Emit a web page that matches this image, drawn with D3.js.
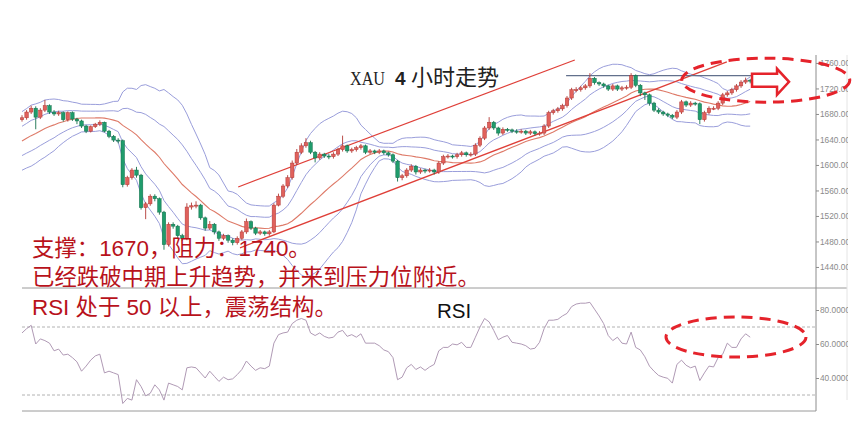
<!DOCTYPE html>
<html><head><meta charset="utf-8">
<script src="https://cdn.jsdelivr.net/npm/d3@7/dist/d3.min.js"></script>
<style>body{margin:0;background:#fff} svg{display:block}</style>
</head><body>
<svg id="c" width="859" height="432"></svg>
<script>
// ---- data ----
const priorCloses = [1600,1606,1611,1608,1615,1620,1626,1622,1630,1636,1641,1648,1645,1652,1658,1663,1660,1668,1671];
const closes = [1674,1683,1689,1675,1686,1693,1683,1680,1682,1671,
 1682,1672,1669,1661,1653,1660,1664,1667,1653,1645,
 1639,1638,1569,1580,1592,1584,1533,1539,1551,1547,
 1526,1475,1507,1504,1489,1485,1534,1536,1537,1517,
 1501,1507,1495,1485,1489,1482,1478,1485,1495,1511,
 1501,1493,1495,1492,1495,1537,1551,1567,1580,1603,
 1620,1630,1635,1620,1611,1617,1614,1613,1617,1624,
 1630,1622,1624,1627,1630,1620,1622,1620,1622,1619,
 1616,1606,1580,1583,1592,1598,1589,1592,1591,1592,
 1589,1603,1613,1614,1613,1616,1619,1616,1617,1631,
 1642,1658,1667,1658,1650,1656,1655,1653,1652,1653,
 1650,1652,1649,1650,1661,1682,1685,1688,1693,1705,
 1718,1718,1721,1724,1736,1729,1727,1724,1719,1724,
 1719,1721,1722,1740,1725,1713,1710,1697,1686,1683,
 1680,1678,1675,1683,1699,1694,1697,1696,1671,1682,
 1689,1689,1697,1710,1713,1718,1724,1730,1733,1732];
const highs = [1678,1686,1693,1692,1689,1702,1695,1686,1685,1684,
 1684,1684,1674,1671,1663,1662,1666,1670,1668,1655,
 1647,1642,1640,1583,1595,1597,1586,1542,1554,1554,
 1549,1528,1510,1510,1506,1492,1540,1541,1543,1539,
 1519,1512,1509,1497,1492,1491,1485,1488,1498,1516,
 1513,1503,1498,1497,1498,1540,1555,1570,1584,1607,
 1625,1634,1642,1638,1622,1620,1619,1617,1620,1627,
 1646,1632,1627,1630,1633,1632,1625,1624,1625,1624,
 1621,1618,1608,1586,1595,1601,1600,1595,1594,1595,
 1594,1606,1616,1617,1616,1619,1622,1621,1620,1634,
 1645,1661,1675,1669,1660,1659,1658,1657,1656,1656,
 1655,1655,1654,1653,1664,1685,1688,1691,1696,1708,
 1721,1722,1724,1727,1744,1738,1731,1729,1726,1727,
 1726,1724,1725,1744,1742,1727,1715,1712,1699,1689,
 1685,1682,1680,1686,1702,1701,1700,1699,1698,1685,
 1692,1692,1700,1713,1716,1721,1727,1733,1737,1735];
const lows = [1668,1671,1680,1656,1672,1683,1680,1677,1677,1668,
 1668,1669,1664,1658,1650,1651,1658,1661,1651,1642,
 1636,1634,1565,1566,1577,1580,1530,1515,1536,1543,
 1522,1467,1472,1500,1485,1481,1482,1530,1532,1514,
 1497,1498,1491,1481,1482,1478,1474,1475,1482,1492,
 1498,1490,1490,1489,1489,1493,1535,1548,1564,1577,
 1600,1617,1627,1617,1604,1608,1611,1609,1610,1614,
 1621,1619,1619,1621,1624,1617,1617,1617,1617,1616,
 1613,1603,1574,1576,1580,1589,1585,1586,1587,1588,
 1585,1586,1600,1610,1610,1610,1613,1613,1613,1614,
 1628,1639,1655,1655,1646,1647,1652,1650,1649,1649,
 1647,1647,1646,1646,1647,1658,1679,1682,1685,1690,
 1702,1714,1715,1718,1721,1726,1724,1721,1716,1716,
 1716,1716,1718,1719,1722,1708,1702,1693,1683,1680,
 1677,1675,1672,1672,1680,1691,1691,1693,1664,1668,
 1679,1686,1686,1694,1707,1710,1715,1721,1727,1728];
const rsi = [66.5,69,71,60,63,62,60.5,56,57,53.5,
 54,52,49.5,44,47,50.5,53,54,43,44,
 43,42,25,28,27,39,35,29.5,31,36,
 33,27,37,36,35,33,46,46.5,46,43,
 40,44,41,38,40.5,39,39.5,42,45,50,
 47,44.5,46,45.5,47,60.5,65.5,66.5,67,72,
 74,75,74,66.5,65,66.5,64.5,63.5,64,67,
 68,64.5,65.5,64,66,60.5,60.5,60.5,59,56.5,
 55.5,52,39,40.5,46,48,45,46.5,44.5,46.5,
 48,56,58,58,60,59.5,61,58,58,64,
 70,75,73,68,62.5,64,65,61,60.5,60,
 59,57,57.5,61,69,74,74,74.5,76.5,78,
 82,83.5,84,84,84.5,80.5,76.5,72,65,62,
 64,60.5,60,67,58,56.5,52.5,47,44,41.5,
 40.5,39.8,37,48,50.5,47.5,46,47,38.5,43,
 47,46.5,52,54,60.5,58,58,63,66,64];
const priceTicks = [1440,1480,1520,1560,1600,1640,1680,1720,1760];
const rsiTicks = [40,60,80];
const rsiLevels = [30,70];
const resistancePrice = 1740;
const resistanceSpan = [118.8,159.6];
const trendUpper = [[47.2,1565.5],[120.7,1764.7]];
const trendLower = [[47.6,1470],[153.9,1761.6]];
const bbPeriod = 20;
const titleParts = ["XAU","4","小时走势"];
const notes = ["支撑：1670，阻力：1740。","已经跌破中期上升趋势，并来到压力位附近。","RSI 处于 50 以上，震荡结构。"];

// ---- scales ----
const svg = d3.select('#c');
const x = d3.scaleLinear().domain([0,159]).range([22,750.2]);
const y = d3.scaleLinear().domain([1407,1780]).range([288,50.2]);
const yr = d3.scaleLinear().domain([20,92]).range([412,289.6]);

const candles = closes.map((c,i)=>({i, o: i===0 ? priorCloses[priorCloses.length-1] : closes[i-1], c, h: highs[i], l: lows[i]}));

// Bollinger (20) with 1 and 2 sigma
const all = priorCloses.concat(closes);
const bb = closes.map((c,i)=>{
  const w = all.slice(i + priorCloses.length - bbPeriod + 1, i + priorCloses.length + 1);
  const m = d3.mean(w); const s = Math.sqrt(d3.mean(w, v=>(v-m)*(v-m)));
  return {i, m, s};
});

// frame lines
svg.append('line').attr('x1',22).attr('x2',847).attr('y1',288).attr('y2',288).attr('stroke','#9a9a9a');
svg.append('line').attr('x1',22).attr('x2',816).attr('y1',411).attr('y2',411).attr('stroke','#9a9a9a');
svg.append('line').attr('x1',847).attr('x2',847).attr('y1',55).attr('y2',400).attr('stroke','#e4e4e4');

const g = svg.append('g');
[-2,-1,1,2].forEach(k=>{
  g.append('path').datum(bb).attr('fill','none').attr('stroke','#9a9edb').attr('stroke-width',1)
   .attr('d', d3.line().x(d=>x(d.i)).y(d=>y(d.m + k*d.s)));
});
g.append('path').datum(bb).attr('fill','none').attr('stroke','#de7a68').attr('stroke-width',1.1)
 .attr('d', d3.line().x(d=>x(d.i)).y(d=>y(d.m)));

// trend lines
[trendUpper, trendLower].forEach(t=>{
  g.append('line').attr('x1',x(t[0][0])).attr('y1',y(t[0][1])).attr('x2',x(t[1][0])).attr('y2',y(t[1][1]))
   .attr('stroke','#df3f38').attr('stroke-width',1.2);
});
g.append('line').attr('x1',x(resistanceSpan[0])).attr('x2',x(resistanceSpan[1]))
 .attr('y1',y(resistancePrice)).attr('y2',y(resistancePrice)).attr('stroke','#62708c').attr('stroke-width',1.2);

// candles
const cg = svg.append('g');
const upFill='#e0615c', upStroke='#b23a36', dnFill='#1f9c6c', dnStroke='#15704c';
cg.selectAll('line.w').data(candles).join('line').attr('class','w')
  .attr('x1',d=>x(d.i)).attr('x2',d=>x(d.i)).attr('y1',d=>y(d.h)).attr('y2',d=>y(d.l))
  .attr('stroke',d=>d.c>=d.o?upStroke:dnStroke).attr('stroke-width',0.9);
cg.selectAll('rect').data(candles).join('rect')
  .attr('x',d=>x(d.i)-1.75).attr('width',3.5)
  .attr('y',d=>y(Math.max(d.o,d.c))).attr('height',d=>Math.max(1,Math.abs(y(d.o)-y(d.c))))
  .attr('fill',d=>d.c>=d.o?upFill:dnFill).attr('stroke',d=>d.c>=d.o?upStroke:dnStroke).attr('stroke-width',0.5);

// price axis
const pa = svg.append('g').attr('transform','translate(816,0)')
  .call(d3.axisRight(y).tickValues(priceTicks).tickFormat(d3.format('.2f')).tickSize(3).tickSizeOuter(0));
pa.select('.domain').attr('d','M0,55V411').attr('stroke','#8c8c8c');
pa.selectAll('line').attr('stroke','#8c8c8c');
pa.selectAll('text').attr('fill','#8a8a8a').attr('font-size',8.3).attr('font-family','Liberation Sans, Arial').attr('x',4);

// RSI
rsiLevels.forEach(v=>{
  svg.append('line').attr('x1',22).attr('x2',816).attr('y1',yr(v)).attr('y2',yr(v))
    .attr('stroke','#a0a0a0').attr('stroke-dasharray','3,2').attr('stroke-width',0.8);
});
svg.append('path').datum(rsi).attr('fill','none').attr('stroke','#b09ab5').attr('stroke-width',1)
  .attr('d', d3.line().x((d,i)=>x(i)).y(d=>yr(d)));
const ra = svg.append('g').attr('transform','translate(816,0)')
  .call(d3.axisRight(yr).tickValues(rsiTicks).tickFormat(d=>d.toFixed(4)).tickSize(3).tickSizeOuter(0));
ra.select('.domain').remove();
ra.selectAll('line').attr('stroke','#8c8c8c');
ra.selectAll('text').attr('fill','#8a8a8a').attr('font-size',8.3).attr('font-family','Liberation Sans, Arial').attr('x',4);
// clip the labels like the original
svg.append('rect').attr('x',848).attr('y',0).attr('width',11).attr('height',432).attr('fill','#fff');

// annotations: ellipses and arrow
const red = '#e5232b';
svg.append('ellipse').attr('cx',x(162.4)).attr('cy',y(1733)).attr('rx',84).attr('ry',22)
  .attr('fill','none').attr('stroke',red).attr('stroke-width',3).attr('stroke-dasharray','11,7');
svg.append('ellipse').attr('cx',x(155.9)).attr('cy',yr(64.1)).attr('rx',70).attr('ry',20)
  .attr('fill','none').attr('stroke',red).attr('stroke-width',3).attr('stroke-dasharray','11,7');
svg.append('path').attr('transform',`translate(${x(159.4)},${y(1732)})`)
  .attr('d','M0,-7 L25,-7 L25,-12 L37,1 L25,14 L25,6 L0,6 Z')
  .attr('fill','#fff').attr('stroke',red).attr('stroke-width',2.5).attr('stroke-linejoin','miter');

// title
svg.append('text').attr('x',350).attr('y',85).attr('font-family','Liberation Serif, serif').attr('font-size',19)
  .attr('textLength',35).attr('lengthAdjust','spacingAndGlyphs').attr('fill','#222').text(titleParts[0]);
svg.append('text').attr('x',395).attr('y',85).attr('font-family','Liberation Sans, Arial').attr('font-weight','bold')
  .attr('font-size',19).attr('fill','#222').text(titleParts[1]);
svg.append('text').attr('x',411).attr('y',85).attr('font-family','Noto Sans CJK SC').attr('font-size',22)
  .attr('fill','#222').text(titleParts[2]);

// red notes
const baselines = [256,285,315];
notes.forEach((t,k)=>{
  svg.append('text').attr('x',32).attr('y',baselines[k])
    .attr('font-family',"'Liberation Sans', Arial, 'Noto Sans CJK SC'").attr('font-size',22.4)
    .attr('fill','#b8121b').text(t);
});
svg.append('text').attr('x',437).attr('y',318).attr('font-family','Liberation Sans, Arial')
  .attr('font-size',20.5).attr('fill','#111').text('RSI');
</script>
</body></html>
